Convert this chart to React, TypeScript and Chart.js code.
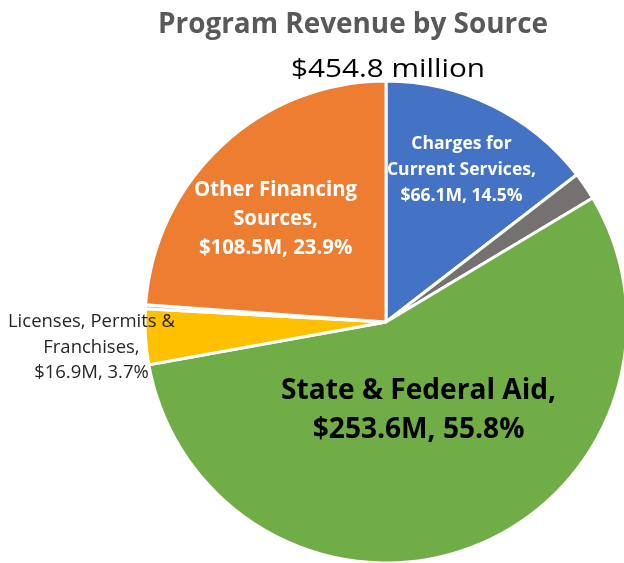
import { useEffect, useRef } from "react";
import Chart from "chart.js/auto";

// ---- Data ----
const categories = [
  "Charges for Current Services",
  "Other Revenue",
  "State & Federal Aid",
  "Licenses, Permits & Franchises",
  "Miscellaneous",
  "Other Financing Sources",
];
const labelLines: string[][] = [
  ["Charges for", "Current Services,"],
  [],
  ["State & Federal Aid,"],
  ["Licenses, Permits &", "Franchises,"],
  [],
  ["Other Financing", "Sources,"],
];
const valuesM = [66.1, 8.5, 253.6, 16.9, 1.2, 108.5];
const sliceColors = ["#4472C4", "#767171", "#70AD47", "#FFC000", "#9DC3E6", "#ED7D31"];
const titleText = "Program Revenue by Source";

const total = valuesM.reduce((a, b) => a + b, 0);
const subtitleText = `$${total.toFixed(1)} million`;

const FONT = '"Open Sans", "Noto Sans", sans-serif';
const CAP_RATIO = 0.714;

type TextStyle = {
  weight: string;
  color: string;
  width: number; // width of widest line
  cap: number; // cap height
  lh: number;
};
type LabelStyle = (TextStyle & { f: number; dx: number; dy: number }) | null;

const labelStyles: LabelStyle[] = [
  { f: 0.71, dx: 0, dy: 0, weight: "bold", color: "#ffffff", width: 149, cap: 13.3, lh: 26 },
  null,
  { f: 0.385, dx: 0, dy: 0, weight: "bold", color: "#000000", width: 275, cap: 20, lh: 39 },
  { f: 1, dx: -54, dy: 10, weight: "normal", color: "#262626", width: 167, cap: 12.3, lh: 25.5 },
  null,
  { f: 0.63, dx: -7, dy: 7, weight: "bold", color: "#ffffff", width: 163, cap: 15, lh: 29 },
];

function drawBlock(
  ctx: CanvasRenderingContext2D,
  lines: string[],
  cx: number,
  firstBaseline: number,
  s: TextStyle
) {
  const size = s.cap / CAP_RATIO;
  ctx.save();
  ctx.font = `${s.weight} ${size}px ${FONT}`;
  let maxW = 0;
  for (const l of lines) maxW = Math.max(maxW, ctx.measureText(l).width);
  const sx = s.width / maxW;
  ctx.fillStyle = s.color;
  ctx.textAlign = "center";
  ctx.textBaseline = "alphabetic";
  lines.forEach((l, i) => {
    ctx.save();
    ctx.translate(cx, firstBaseline + i * s.lh);
    ctx.scale(sx, 1);
    ctx.fillText(l, 0, 0);
    ctx.restore();
  });
  ctx.restore();
}

const textPlugin = {
  id: "pieTexts",
  afterDraw(chart: any) {
    const ctx: CanvasRenderingContext2D = chart.ctx;
    const meta = chart.getDatasetMeta(0);
    meta.data.forEach((arc: any, i: number) => {
      const s = labelStyles[i];
      if (!s) return;
      const { x, y, startAngle, endAngle, outerRadius } = arc.getProps(
        ["x", "y", "startAngle", "endAngle", "outerRadius"],
        true
      );
      const mid = (startAngle + endAngle) / 2;
      const cx = x + Math.cos(mid) * outerRadius * s.f + s.dx;
      const cy = y + Math.sin(mid) * outerRadius * s.f + s.dy;
      const pct = ((valuesM[i] / total) * 100).toFixed(1);
      const lines = [...labelLines[i], `$${valuesM[i].toFixed(1)}M, ${pct}%`];
      const first = cy - ((lines.length - 1) / 2) * s.lh + s.cap / 2;
      drawBlock(ctx, lines, cx, first, s);
    });
    // Title & subtitle
    drawBlock(ctx, [titleText], 353, 33.3, {
      weight: "bold",
      color: "#595959",
      width: 390,
      cap: 20,
      lh: 0,
    });
    drawBlock(ctx, [subtitleText], 388, 77, {
      weight: "normal",
      color: "#000000",
      width: 194,
      cap: 18.5,
      lh: 0,
    });
  },
};

export default function App() {
  const ref = useRef<HTMLCanvasElement | null>(null);
  useEffect(() => {
    if (!ref.current) return;
    const chart = new Chart(ref.current, {
      type: "pie",
      data: {
        labels: categories,
        datasets: [
          {
            data: valuesM,
            backgroundColor: sliceColors,
            borderColor: "#ffffff",
            borderWidth: 3,
          },
        ],
      },
      options: {
        responsive: false,
        animation: false,
        radius: 241,
        layout: { padding: { left: 140, right: 8, top: 80, bottom: 36 } },
        plugins: {
          legend: { display: false },
          tooltip: { enabled: false },
          title: { display: false },
        },
      } as any,
      plugins: [textPlugin],
    });
    return () => chart.destroy();
  }, []);
  return (
    <div
      style={{
        position: "fixed",
        left: 0,
        top: 0,
        width: 624,
        height: 563,
        overflow: "hidden",
        background: "#ffffff",
      }}
    >
      <canvas ref={ref} width={640} height={600} style={{ display: "block" }} />
    </div>
  );
}
